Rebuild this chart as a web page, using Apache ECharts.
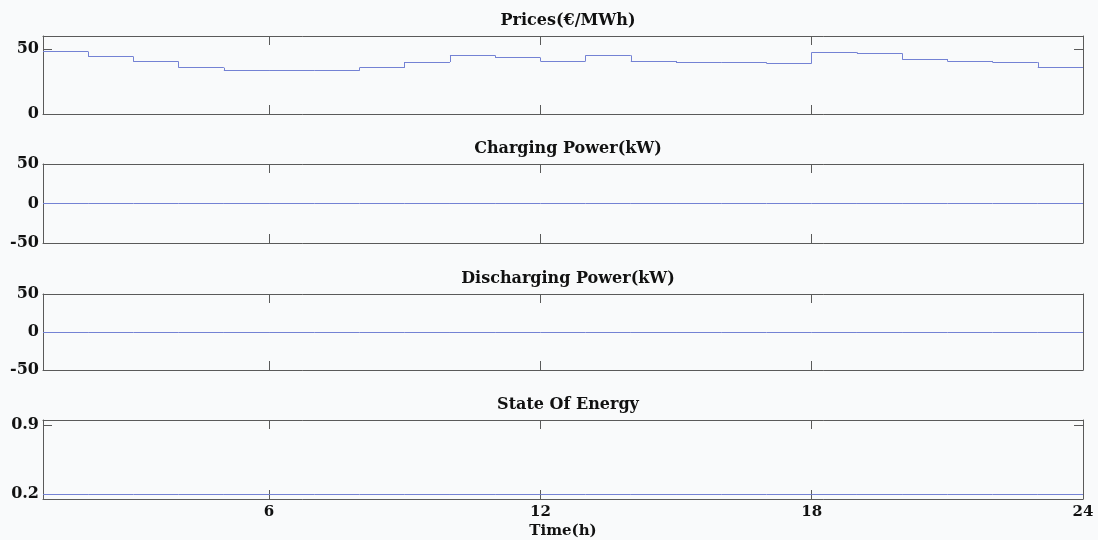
<!DOCTYPE html>
<html>
<head>
<meta charset="utf-8">
<script src="https://cdn.jsdelivr.net/npm/echarts@6/dist/echarts.min.js"></script>
<style>
html,body{margin:0;padding:0;background:#f9fafb;}
#c{width:1098px;height:540px;}
</style>
</head>
<body>
<div id="c"></div>
<script>
// Data
const hours = [1,2,3,4,5,6,7,8,9,10,11,12,13,14,15,16,17,18,19,20,21,22,23,24];
const prices = [48,44.1,40.2,35.6,33.3,33.3,33.3,35.6,40,45.1,43.3,40.8,45.1,40.8,39.8,39.8,39,47.4,46.7,42.3,40.8,39.8,35.6,35.6];
const chargingPower = [0,0,0,0,0,0,0,0,0,0,0,0,0,0,0,0,0,0,0,0,0,0,0,0];
const dischargingPower = [0,0,0,0,0,0,0,0,0,0,0,0,0,0,0,0,0,0,0,0,0,0,0,0];
const stateOfEnergy = [0.2,0.2,0.2,0.2,0.2,0.2,0.2,0.2,0.2,0.2,0.2,0.2,0.2,0.2,0.2,0.2,0.2,0.2,0.2,0.2,0.2,0.2,0.2,0.2];
const titles = ['Prices(€/MWh)','Charging Power(kW)','Discharging Power(kW)','State Of Energy'];
const xTicks = [6,12,18,24];
const yTicks = [[0,50],[-50,0,50],[-50,0,50],[0.2,0.9]];
const yRanges = [[0,60],[-50,50],[-50,50],[0.15,0.95]];
const xName = 'Time(h)';

const FONT = 'DejaVu Serif';
const lineColor = '#7482d4';
const axisColor = '#5a5a5a';
const grids = [
  {left:43, right:15, top:36, height:78},
  {left:43, right:15, top:164, height:79},
  {left:43, right:15, top:294, height:76},
  {left:43, right:15, top:420, height:79}
];
const seriesData = [prices, chargingPower, dischargingPower, stateOfEnergy];

// build step segments (value held from hour h to next hour) from the arrays
function stepSegments(xs, ys) {
  const segs = [];
  for (let k = 0; k < xs.length - 1; k++) {
    segs.push({coords: [[xs[k], ys[k]], [xs[k + 1], ys[k]]]});
    if (ys[k + 1] !== ys[k]) segs.push({coords: [[xs[k + 1], ys[k]], [xs[k + 1], ys[k + 1]]]});
  }
  return segs;
}

const xAxis = [], yAxis = [], series = [], title = [];
grids.forEach((g, i) => {
  const last = i === grids.length - 1;
  ['bottom','top'].forEach(pos => {
    xAxis.push({
      type:'value', gridIndex:i, position:pos, min:1, max:24,
      axisLine:{show:true, onZero:false, lineStyle:{color:axisColor, width:1}},
      axisTick:{show:true, inside:true, length:9, customValues:xTicks, lineStyle:{color:axisColor}},
      axisLabel:{show: pos==='bottom' && last, customValues:xTicks, margin:6,
        fontFamily:FONT, fontWeight:'bold', fontSize:15, color:'#111'},
      splitLine:{show:false},
      name: (pos==='bottom' && last) ? xName : '',
      nameLocation:'middle', nameGap:25,
      nameTextStyle:{fontFamily:FONT, fontWeight:'bold', fontSize:15, color:'#111'}
    });
  });
  ['left','right'].forEach(pos => {
    yAxis.push({
      type:'value', gridIndex:i, position:pos, min:yRanges[i][0], max:yRanges[i][1],
      axisLine:{show:true, onZero:false, lineStyle:{color:axisColor, width:1}},
      axisTick:{show:true, inside:true, length:9, customValues:yTicks[i], lineStyle:{color:axisColor}},
      axisLabel:{show: pos==='left', customValues:yTicks[i], margin:4,
        fontFamily:FONT, fontWeight:'bold', fontSize:16, color:'#111'},
      splitLine:{show:false}
    });
  });
  series.push({
    type:'lines', coordinateSystem:'cartesian2d', xAxisIndex:i*2, yAxisIndex:i*2,
    polyline:false, z:3,
    lineStyle:{color:lineColor, width:1, opacity:1},
    data: stepSegments(hours, seriesData[i]),
    animation:false
  });
  title.push({
    text: titles[i], left: 43 + 1040/2, textAlign:'center',
    top: g.top - 28,
    textStyle:{fontFamily:FONT, fontWeight:'bold', fontSize:16, color:'#111'}
  });
});

const chart = echarts.init(document.getElementById('c'));
chart.setOption({
  backgroundColor:'#f9fafb',
  animation:false,
  title, grid:grids, xAxis, yAxis, series
});
</script>
</body>
</html>
